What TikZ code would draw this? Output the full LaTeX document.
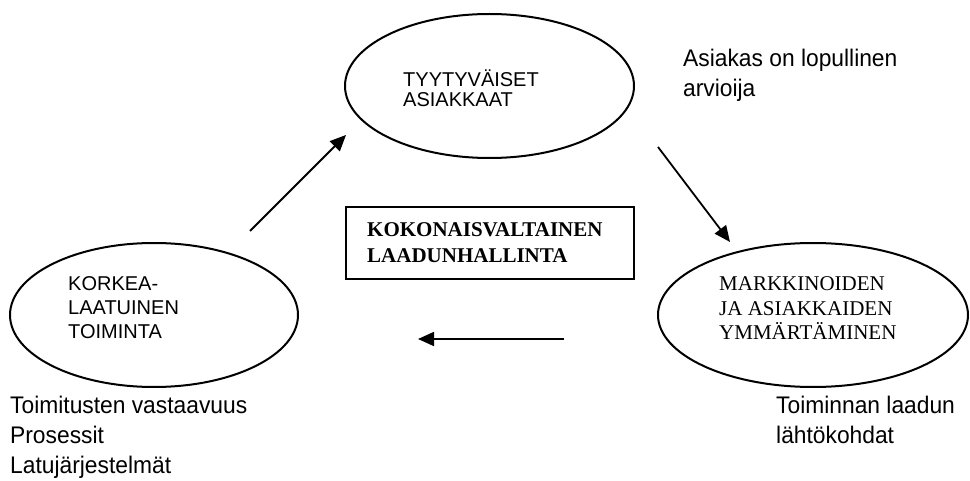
\documentclass[tikz,border=0pt]{standalone}
\usepackage{fontspec}
\usetikzlibrary{arrows.meta,shapes.geometric}
\setmainfont{Liberation Serif}
\newfontfamily\lblfont[FakeStretch=0.95]{Liberation Sans}
\newfontfamily\capsfont{Liberation Sans}
\begin{document}
\begin{tikzpicture}[x=1pt,y=-1pt,
  oval/.style={draw,ellipse,line width=2pt,inner sep=0pt},
  note/.style={inner sep=0pt,anchor=base west,align=left,
    font=\lblfont\fontsize{24}{30}\selectfont},
  ovaltext/.style={inner sep=0pt,anchor=base west,align=left},
  flow/.style={line width=1.8pt,-{Triangle[length=16pt,width=14pt]}}]
  \useasboundingbox (0,0) rectangle (970,481);

  % the three ellipses of the quality cycle
  \node[oval,minimum width=289pt,minimum height=144pt] (top) at (489.5,86) {};
  \node[oval,minimum width=288pt,minimum height=144pt] (left) at (154,315) {};
  \node[oval,minimum width=310pt,minimum height=144pt] (right) at (813,315) {};

  % texts inside the ellipses (anchored at the baseline of the last line)
  \node[ovaltext,font=\capsfont\fontsize{20}{20}\selectfont] (toptxt) at (403,107)
    {TYYTYVÄISET\\ASIAKKAAT};
  \node[ovaltext,font=\capsfont\fontsize{20}{24}\selectfont] (lefttxt) at (68,338)
    {KORKEA-\\LAATUINEN\\TOIMINTA};
  \node[ovaltext,font=\fontsize{21}{24.5}\selectfont] (righttxt) at (719,340)
    {MARKKINOIDEN\\JA ASIAKKAIDEN\\YMMÄRTÄMINEN};

  % central box
  \node[draw,line width=2pt,minimum width=288pt,minimum height=72pt] (box) at (490,243) {};
  \node[ovaltext,font=\bfseries\fontsize{21}{26}\selectfont] (boxtxt) at (367,263)
    {KOKONAISVALTAINEN\\LAADUNHALLINTA};

  % side notes
  \node[note] (n1) at (683,97) {Asiakas on lopullinen\\arvioija};
  \node[note] (n2) at (10,473) {Toimitusten vastaavuus\\Prosessit\\Latujärjestelmät};
  \node[note] (n3) at (776,443) {Toiminnan laadun\\lähtökohdat};

  % arrows between the ellipses
  \coordinate (a1s) at (250,231);
  \coordinate (a1e) at (346,135);
  \coordinate (a2s) at (658,147);
  \coordinate (a2e) at (730,242);
  \coordinate (a3s) at (564,339);
  \coordinate (a3e) at (418,339);
  \draw[flow] (a1s) -- (a1e);
  \draw[flow] (a2s) -- (a2e);
  \draw[flow] (a3s) -- (a3e);
\end{tikzpicture}
\end{document}
